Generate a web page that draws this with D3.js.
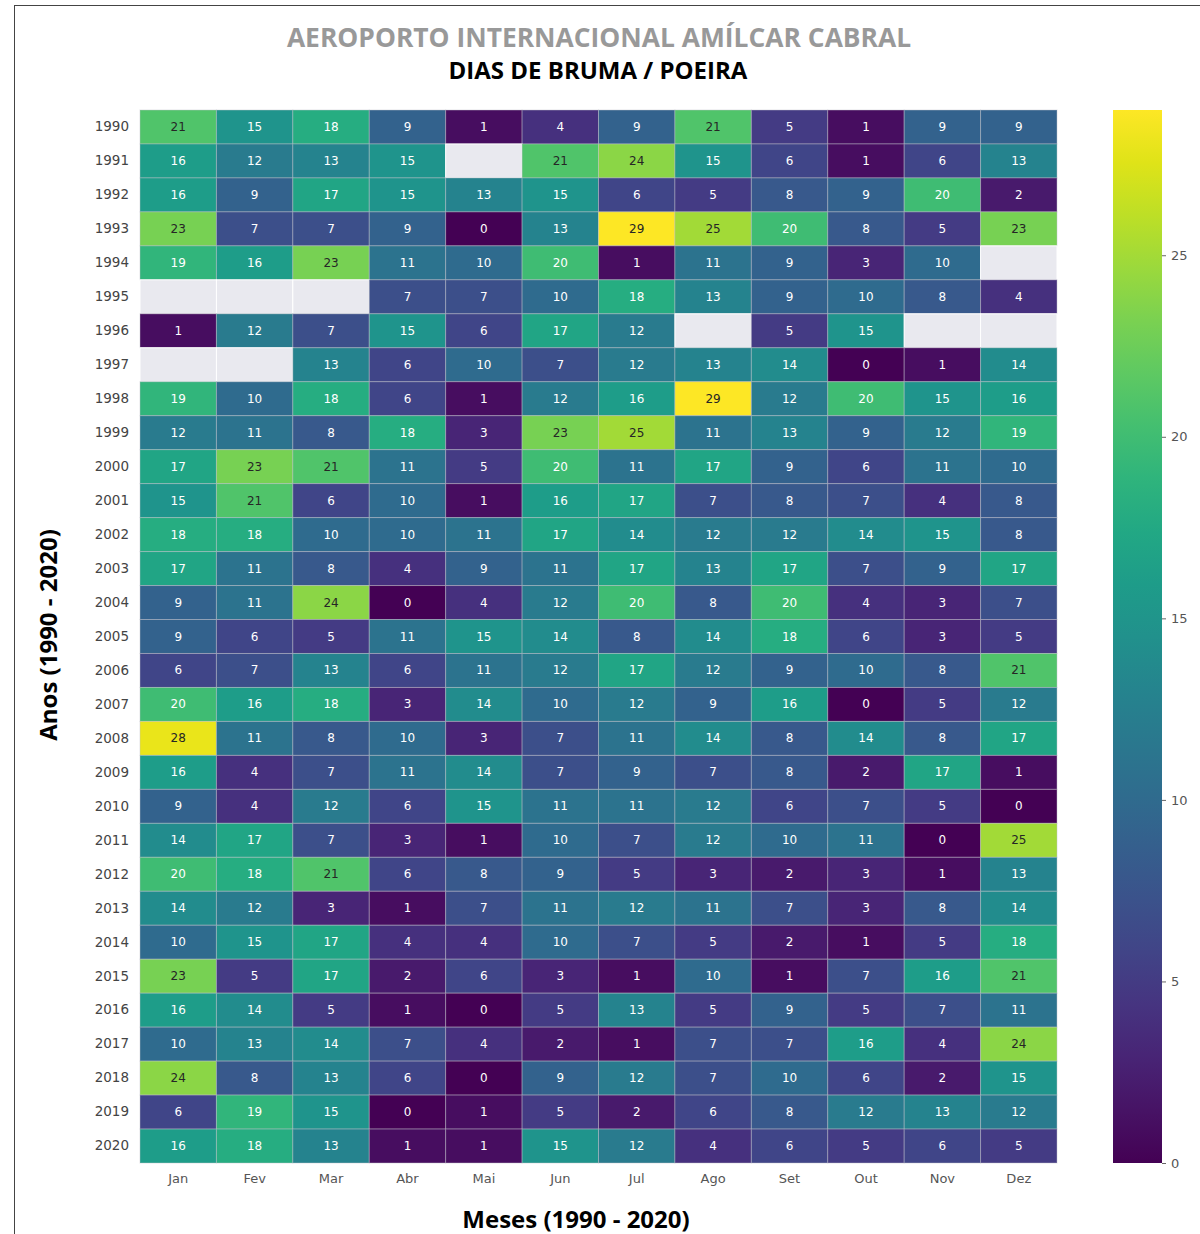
<!DOCTYPE html>
<html><head><meta charset="utf-8">
<script src="https://cdn.jsdelivr.net/npm/d3@7"></script>
<style>body{margin:0;background:#fff}</style>
</head><body>
<svg id="c" width="1200" height="1234"></svg>
<script>
const months = ["Jan","Fev","Mar","Abr","Mai","Jun","Jul","Ago","Set","Out","Nov","Dez"];
const years = d3.range(1990, 2021).map(String);
const N = null;
const v1990 = [21,15,18,9,1,4,9,21,5,1,9,9];
const v1991 = [16,12,13,15,N,21,24,15,6,1,6,13];
const v1992 = [16,9,17,15,13,15,6,5,8,9,20,2];
const v1993 = [23,7,7,9,0,13,29,25,20,8,5,23];
const v1994 = [19,16,23,11,10,20,1,11,9,3,10,N];
const v1995 = [N,N,N,7,7,10,18,13,9,10,8,4];
const v1996 = [1,12,7,15,6,17,12,N,5,15,N,N];
const v1997 = [N,N,13,6,10,7,12,13,14,0,1,14];
const v1998 = [19,10,18,6,1,12,16,29,12,20,15,16];
const v1999 = [12,11,8,18,3,23,25,11,13,9,12,19];
const v2000 = [17,23,21,11,5,20,11,17,9,6,11,10];
const v2001 = [15,21,6,10,1,16,17,7,8,7,4,8];
const v2002 = [18,18,10,10,11,17,14,12,12,14,15,8];
const v2003 = [17,11,8,4,9,11,17,13,17,7,9,17];
const v2004 = [9,11,24,0,4,12,20,8,20,4,3,7];
const v2005 = [9,6,5,11,15,14,8,14,18,6,3,5];
const v2006 = [6,7,13,6,11,12,17,12,9,10,8,21];
const v2007 = [20,16,18,3,14,10,12,9,16,0,5,12];
const v2008 = [28,11,8,10,3,7,11,14,8,14,8,17];
const v2009 = [16,4,7,11,14,7,9,7,8,2,17,1];
const v2010 = [9,4,12,6,15,11,11,12,6,7,5,0];
const v2011 = [14,17,7,3,1,10,7,12,10,11,0,25];
const v2012 = [20,18,21,6,8,9,5,3,2,3,1,13];
const v2013 = [14,12,3,1,7,11,12,11,7,3,8,14];
const v2014 = [10,15,17,4,4,10,7,5,2,1,5,18];
const v2015 = [23,5,17,2,6,3,1,10,1,7,16,21];
const v2016 = [16,14,5,1,0,5,13,5,9,5,7,11];
const v2017 = [10,13,14,7,4,2,1,7,7,16,4,24];
const v2018 = [24,8,13,6,0,9,12,7,10,6,2,15];
const v2019 = [6,19,15,0,1,5,2,6,8,12,13,12];
const v2020 = [16,18,13,1,1,15,12,4,6,5,6,5];
const rows = [v1990,v1991,v1992,v1993,v1994,v1995,v1996,v1997,v1998,v1999,v2000,v2001,v2002,v2003,v2004,v2005,v2006,v2007,v2008,v2009,v2010,v2011,v2012,v2013,v2014,v2015,v2016,v2017,v2018,v2019,v2020];
const cbTicks = [0,5,10,15,20,25];

const svg = d3.select("#c");
svg.append("rect").attr("x",14.5).attr("y",5.5).attr("width",1300).attr("height",1300)
  .attr("fill","none").attr("stroke","#444").attr("stroke-width",1);

const L=140, R=1057, T=110, B=1163;
const x = d3.scaleBand().domain(months).range([L,R]);
const y = d3.scaleBand().domain(years).range([T,B]);
const vmax = d3.max(rows.flat());
const color = d3.scaleSequential(d3.interpolateViridis).domain([0, vmax]);

const cells = [];
rows.forEach((r,i)=>r.forEach((v,j)=>cells.push({y:years[i],m:months[j],v})));

const g = svg.append("g");
g.selectAll("rect.cell").data(cells).join("rect")
  .attr("x",d=>x(d.m)).attr("y",d=>y(d.y))
  .attr("width",x.bandwidth()).attr("height",y.bandwidth())
  .attr("fill",d=>d.v==null?"#e9e9ef":color(d.v))
  .attr("stroke",d=>d.v==null?"#fff":"rgba(190,190,200,0.45)").attr("stroke-width",1);

g.selectAll("text.ann").data(cells.filter(d=>d.v!=null)).join("text")
  .attr("x",d=>x(d.m)+x.bandwidth()/2).attr("y",d=>y(d.y)+y.bandwidth()/2)
  .attr("text-anchor","middle").attr("dominant-baseline","central")
  .attr("font-family","DejaVu Sans").attr("font-size",12)
  .attr("fill",d=>d.v>=21?"#262626":"#fff")
  .text(d=>d.v);

const ya = svg.append("g").attr("transform",`translate(${L},0)`)
  .call(d3.axisLeft(y).tickSize(0).tickPadding(11));
ya.select(".domain").remove();
ya.selectAll("text").attr("font-family","DejaVu Sans").attr("font-size",13.5).attr("fill","#444");

const xa = svg.append("g").attr("transform",`translate(0,${B})`)
  .call(d3.axisBottom(x).tickSize(0).tickPadding(11));
xa.select(".domain").remove();
xa.selectAll("text").attr("font-family","DejaVu Sans").attr("font-size",13).attr("fill","#555");

const cbX=1113, cbW=49;
const cy = d3.scaleLinear().domain([0,vmax]).range([B,T]);
const defs = svg.append("defs");
const grad = defs.append("linearGradient").attr("id","vg").attr("x1",0).attr("y1",1).attr("x2",0).attr("y2",0);
d3.range(0,1.0001,0.05).forEach(t=>grad.append("stop").attr("offset",t).attr("stop-color",d3.interpolateViridis(t)));
svg.append("rect").attr("x",cbX).attr("y",T).attr("width",cbW).attr("height",B-T).attr("fill","url(#vg)");
const cba = svg.append("g").attr("transform",`translate(${cbX+cbW},0)`)
  .call(d3.axisRight(cy).tickValues(cbTicks).tickSize(4).tickPadding(5));
cba.select(".domain").remove();
cba.selectAll("line").attr("stroke","#666");
cba.selectAll("text").attr("font-family","DejaVu Sans").attr("font-size",13).attr("fill","#555");

svg.append("text").attr("x",599).attr("y",47).attr("text-anchor","middle")
  .attr("font-family","Open Sans").attr("font-weight","bold").attr("font-size",26.4)
  .attr("fill","#999").text("AEROPORTO INTERNACIONAL AMÍLCAR CABRAL");
svg.append("text").attr("x",598).attr("y",79).attr("text-anchor","middle")
  .attr("font-family","Open Sans").attr("font-weight","bold").attr("font-size",24)
  .attr("fill","#000").text("DIAS DE BRUMA / POEIRA");
svg.append("text").attr("transform","translate(57,635) rotate(-90)").attr("text-anchor","middle")
  .attr("font-family","Open Sans").attr("font-weight","bold").attr("font-size",24)
  .attr("fill","#000").text("Anos (1990 - 2020)");
svg.append("text").attr("x",576).attr("y",1228).attr("text-anchor","middle")
  .attr("font-family","Open Sans").attr("font-weight","bold").attr("font-size",24)
  .attr("fill","#000").text("Meses (1990 - 2020)");
</script>
</body></html>
